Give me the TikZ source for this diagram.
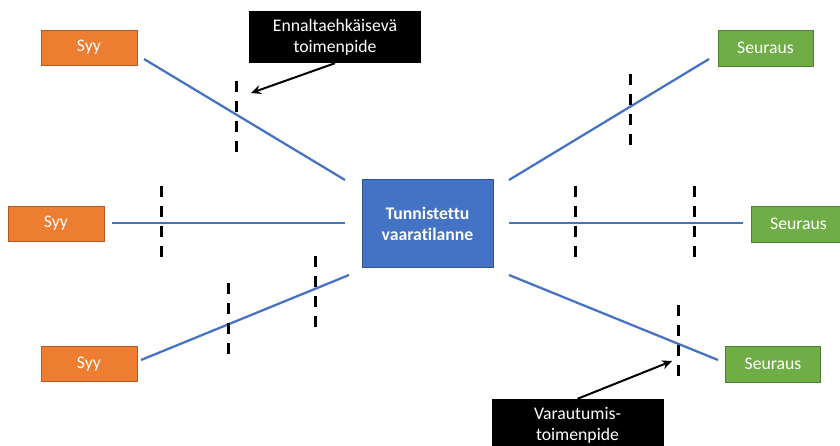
\documentclass[tikz,border=0pt]{standalone}
\usepackage{fontspec}
\setmainfont{Carlito}[Ligatures=CommonOff]
\usetikzlibrary{arrows.meta}
\definecolor{syyfill}{HTML}{ED7D31}
\definecolor{syyedge}{HTML}{AE5A21}
\definecolor{seurfill}{HTML}{70AD47}
\definecolor{seuredge}{HTML}{507E32}
\definecolor{tilfill}{HTML}{4472C4}
\definecolor{tiledge}{HTML}{2F528F}

\begin{document}
\begin{tikzpicture}[x=1pt,y=-1pt]
\tikzstyle{every node}=[shape=rectangle,text=white,align=center,inner sep=0pt,font=\fontsize{17.7}{21}\selectfont];
\tikzstyle{syy}=[fill=syyfill,draw=syyedge,line width=0.75pt,minimum width=96pt,minimum height=35pt];
\tikzstyle{seuraus}=[fill=seurfill,draw=seuredge,line width=0.75pt,minimum width=95pt,minimum height=36pt];
\tikzstyle{tilanne}=[fill=tilfill,draw=tiledge,line width=0.75pt,minimum width=131pt,minimum height=88pt,font=\fontsize{17.7}{21}\selectfont\bfseries];
\tikzstyle{toimenpide}=[fill=black,minimum width=172pt,minimum height=52pt];
\tikzstyle{fishline}=[draw=tilfill,line width=2.25pt];
\tikzstyle{barrier}=[draw=black,line width=3pt,dash pattern=on 11pt off 9pt];
\tikzstyle{pointer}=[draw=black,line width=2pt,-{Stealth[length=10pt,width=9pt]}];
\useasboundingbox (0,0) rectangle (840,446);

% laatikot
\node[tilanne] (tilanne) at (427.5,223.5) {Tunnistettu\\vaaratilanne};
\node[syy] (syyA) at (89,47.5) {Syy};
\node[syy] (syyB) at (56,223.5) {Syy};
\node[syy] (syyC) at (89,364) {Syy};
\node[seuraus] (seurA) at (765.5,48) {Seuraus};
\node[seuraus] (seurB) at (798.5,224) {Seuraus};
\node[seuraus] (seurC) at (773,364) {Seuraus};
\node[toimenpide] (ennalta) at (335,37) {Ennaltaehkäisevä\\toimenpide};
\node[toimenpide] (varaut) at (577.5,425) {Varautumis-\\toimenpide};

% syyt ja seuraukset
\coordinate (inA) at (345,180);
\coordinate (inB) at (345,223);
\coordinate (inC) at (349,275);
\coordinate (outA) at (509,180);
\coordinate (outB) at (509,223);
\coordinate (outC) at (509,275);
\draw[fishline] (144,59) -- (inA);
\draw[fishline] (112,223) -- (inB);
\draw[fishline] (141,360) -- (inC);
\draw[fishline] (outA) -- (709,59);
\draw[fishline] (outB) -- (743,223);
\draw[fishline] (outC) -- (718,360);

% esteet
\foreach \x/\y in {236/81,161/186,228/283,315/256,630/74,575/186,694/186,678/305}
	\draw[barrier] (\x,\y) -- ++(0,71);

% nuolet
\coordinate (estoA) at (251,93);
\coordinate (estoC) at (672,361);
\draw[pointer] (ennalta.south) -- (estoA);
\draw[pointer] (varaut.north) -- (estoC);
\end{tikzpicture}
\end{document}
